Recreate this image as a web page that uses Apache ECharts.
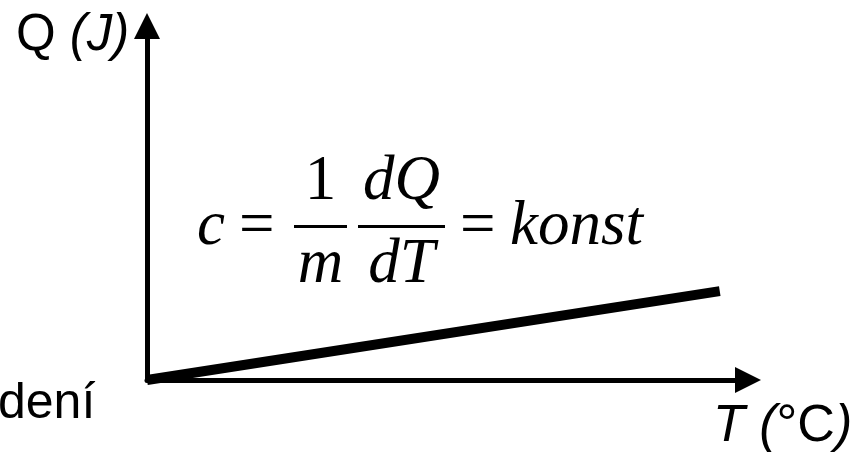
<!DOCTYPE html>
<html>
<head>
<meta charset="utf-8">
<script src="https://cdn.jsdelivr.net/npm/echarts@6/dist/echarts.min.js"></script>
<style>
html,body{margin:0;padding:0;background:#fff;}
#main{width:863px;height:458px;}
</style>
</head>
<body>
<div id="main"></div>
<script>
// data: teplota a teplo (prima umernost)
var tempValues = [0, 95.3];
var heatValues = [0, 25.1];
var yName = ['Q', '(J)'];
var xName = ['T (', '°C', ')'];
var sideText = 'dení';

var sans = 'Liberation Sans, Arial, sans-serif';
var serif = 'Liberation Serif, Times New Roman, serif';

var lineData = [];
for (var i = 0; i < tempValues.length; i++) {
	lineData.push([tempValues[i], heatValues[i]]);
}

// text vzorce
function ft(txt, x, y, align, italic) {
	return {
		type: 'text', x: x, y: y, silent: true,
		style: {
			text: txt, fill: '#000',
			font: (italic ? 'italic ' : '') + '63px ' + serif,
			align: align, verticalAlign: 'middle'
		}
	};
}

var myChart = echarts.init(document.getElementById('main'));

var option = {
	animation: false,
	backgroundColor: '#fff',
	grid: { left: 147, right: 115, top: 26, bottom: 78 },
	xAxis: {
		type: 'value', min: 0, max: 100,
		axisLine: { show: true, symbol: ['none', 'triangle'], symbolSize: [26, 26],
			lineStyle: { color: '#000', width: 5 } },
		axisTick: { show: false }, axisLabel: { show: false }, splitLine: { show: false }
	},
	yAxis: {
		type: 'value', min: 0, max: 100,
		axisLine: { show: true, symbol: ['none', 'triangle'], symbolSize: [26, 26],
			lineStyle: { color: '#000', width: 5 } },
		axisTick: { show: false }, axisLabel: { show: false }, splitLine: { show: false }
	},
	series: [{
		type: 'line',
		data: lineData,
		symbol: 'none',
		lineStyle: { color: '#000', width: 10, cap: 'butt' },
		z: 3
	}],
	graphic: [
		{
			type: 'text', x: 16, y: 36, silent: true,
			style: {
				text: '{n|' + yName[0] + '} {i|' + yName[1] + '}',
				font: '51px ' + sans, fill: '#000', align: 'left', verticalAlign: 'middle',
				rich: {
					n: { font: '51px ' + sans, fill: '#000' },
					i: { font: 'italic 51px ' + sans, fill: '#000' }
				}
			}
		},
		{
			type: 'text', x: 713, y: 427, silent: true,
			style: {
				text: '{i|' + xName[0] + '}{n|' + xName[1] + '}{i|' + xName[2] + '}',
				font: '52px ' + sans, fill: '#000', align: 'left', verticalAlign: 'middle',
				rich: {
					n: { font: '52px ' + sans, fill: '#000' },
					i: { font: 'italic 52px ' + sans, fill: '#000' }
				}
			}
		},
		{
			type: 'text', x: -2, y: 404, silent: true,
			style: { text: sideText, font: '50px ' + sans, fill: '#000', align: 'left', verticalAlign: 'middle' }
		},
		// c = 1/m dQ/dT = konst
		ft('c', 197, 227, 'left', true),
		ft('=', 239, 227, 'left', false),
		ft('1', 320.5, 182, 'center', false),
		ft('m', 320.5, 265, 'center', true),
		ft('dQ', 401.5, 182, 'center', true),
		ft('dT', 401.5, 265, 'center', true),
		ft('=', 460, 227, 'left', false),
		ft('konst', 510, 227, 'left', true),
		{ type: 'rect', silent: true, shape: { x: 294, y: 225, width: 53, height: 3 }, style: { fill: '#000' } },
		{ type: 'rect', silent: true, shape: { x: 358, y: 225, width: 87, height: 3 }, style: { fill: '#000' } }
	]
};

myChart.setOption(option);
</script>
</body>
</html>
